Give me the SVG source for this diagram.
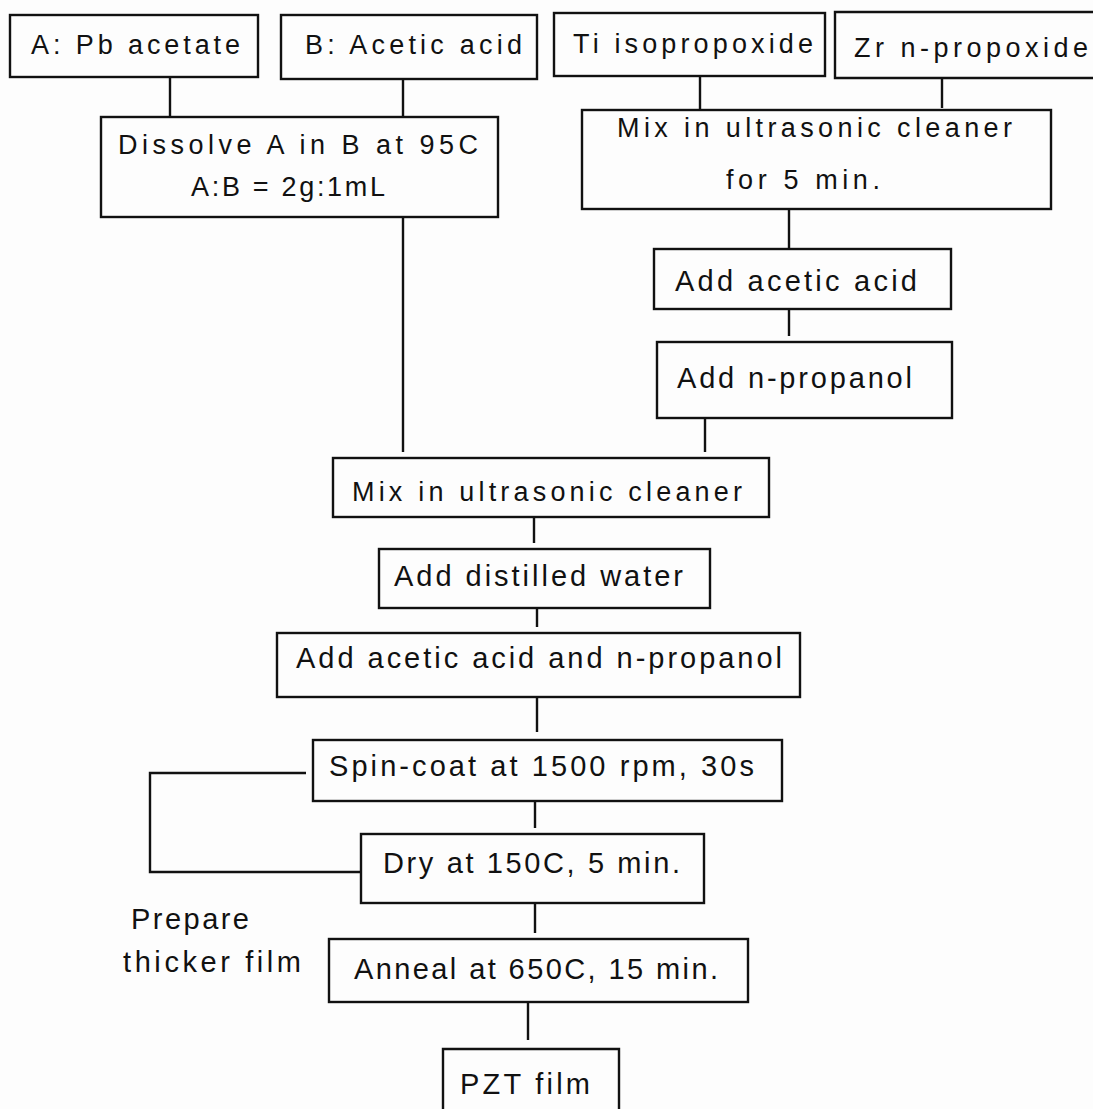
<svg xmlns="http://www.w3.org/2000/svg" width="1093" height="1109" viewBox="0 0 1093 1109">
<style>
  .box { fill: none; stroke: #111; stroke-width: 2.4; }
  .ln { fill: none; stroke: #111; stroke-width: 2.4; }
  text { font-family: "Liberation Sans", Arial, sans-serif; fill: #111; }
  .s { font-size: 27px; }
  .m { font-size: 29px; }
</style>
<rect x="0" y="0" width="1093" height="1109" fill="#fdfdfd"/>
<g id="connectors">
  <path class="ln" d="M170,77 V117"/>
  <path class="ln" d="M403,79 V117"/>
  <path class="ln" d="M403,217 V452"/>
  <path class="ln" d="M700,76 V110"/>
  <path class="ln" d="M942,78 V108"/>
  <path class="ln" d="M789,209 V249"/>
  <path class="ln" d="M789,309 V336"/>
  <path class="ln" d="M705,418 V452"/>
  <path class="ln" d="M534,517 V543"/>
  <path class="ln" d="M537,608 V627"/>
  <path class="ln" d="M537,697 V732"/>
  <path class="ln" d="M535,801 V828"/>
  <path class="ln" d="M535,903 V933"/>
  <path class="ln" d="M528,1002 V1040"/>
  <path class="ln" d="M306,773 H150 V872 H361"/>
</g>
<g id="nA">
  <rect class="box" x="10" y="15" width="248" height="62"/>
  <text class="s" x="31" y="54" textLength="209" lengthAdjust="spacing">A: Pb acetate</text>
</g>
<g id="nB">
  <rect class="box" x="281" y="15" width="256" height="64"/>
  <text class="s" x="305" y="54" textLength="217" lengthAdjust="spacing">B: Acetic acid</text>
</g>
<g id="nTi">
  <rect class="box" x="554" y="13" width="271" height="63"/>
  <text class="s" x="573" y="53" textLength="240" lengthAdjust="spacing">Ti isopropoxide</text>
</g>
<g id="nZr">
  <path class="box" d="M1096,12 H835 V78 H1096"/>
  <text class="s" x="854" y="57" textLength="234" lengthAdjust="spacing">Zr n-propoxide</text>
</g>
<g id="nDissolve">
  <rect class="box" x="101" y="117" width="397" height="100"/>
  <text class="s" x="118" y="154" textLength="360" lengthAdjust="spacing">Dissolve A in B at 95C</text>
  <text class="s" x="191" y="196" textLength="194" lengthAdjust="spacing">A:B = 2g:1mL</text>
</g>
<g id="nMix1">
  <rect class="box" x="582" y="110" width="469" height="99"/>
  <text class="s" x="617" y="137" textLength="395" lengthAdjust="spacing">Mix in ultrasonic cleaner</text>
  <text class="s" x="726" y="189" textLength="154" lengthAdjust="spacing">for 5 min.</text>
</g>
<g id="nAceticAcid">
  <rect class="box" x="654" y="249" width="297" height="60"/>
  <text class="m" x="675" y="291" textLength="242" lengthAdjust="spacing">Add acetic acid</text>
</g>
<g id="nPropanol">
  <rect class="box" x="657" y="342" width="295" height="76"/>
  <text class="m" x="677" y="388" textLength="235" lengthAdjust="spacing">Add n-propanol</text>
</g>
<g id="nMix2">
  <rect class="box" x="333" y="458" width="436" height="59"/>
  <text class="s" x="352" y="501" textLength="390" lengthAdjust="spacing">Mix in ultrasonic cleaner</text>
</g>
<g id="nWater">
  <rect class="box" x="379" y="549" width="331" height="59"/>
  <text class="m" x="394" y="586" textLength="289" lengthAdjust="spacing">Add distilled water</text>
</g>
<g id="nAddBoth">
  <rect class="box" x="277" y="633" width="523" height="64"/>
  <text class="m" x="296" y="668" textLength="486" lengthAdjust="spacing">Add acetic acid and n-propanol</text>
</g>
<g id="nSpin">
  <rect class="box" x="313" y="740" width="469" height="61"/>
  <text class="m" x="329" y="776" textLength="425" lengthAdjust="spacing">Spin-coat at 1500 rpm, 30s</text>
</g>
<g id="nDry">
  <rect class="box" x="361" y="834" width="343" height="69"/>
  <text class="m" x="383" y="873" textLength="297" lengthAdjust="spacing">Dry at 150C, 5 min.</text>
</g>
<g id="nAnneal">
  <rect class="box" x="329" y="939" width="419" height="63"/>
  <text class="m" x="354" y="979" textLength="364" lengthAdjust="spacing">Anneal at 650C, 15 min.</text>
</g>
<g id="nPZT">
  <path class="box" d="M443,1112 V1049 H619 V1112"/>
  <text class="m" x="460" y="1094" textLength="130" lengthAdjust="spacing">PZT film</text>
</g>
<g id="loopLabel">
  <text class="m" x="131" y="929" textLength="118" lengthAdjust="spacing">Prepare</text>
  <text class="m" x="123" y="972" textLength="178" lengthAdjust="spacing">thicker film</text>
</g>
</svg>
